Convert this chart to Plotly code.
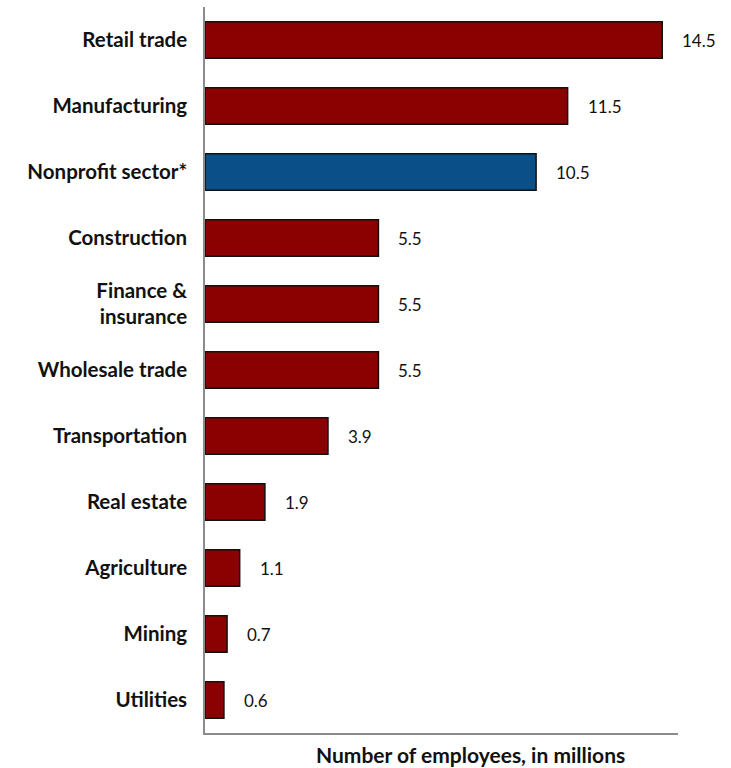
import plotly.graph_objects as go

categories = ["Retail trade", "Manufacturing", "Nonprofit sector*", "Construction",
              "Finance &<br>insurance", "Wholesale trade", "Transportation",
              "Real estate", "Agriculture", "Mining", "Utilities"]
values = [14.5, 11.5, 10.5, 5.5, 5.5, 5.5, 3.9, 1.9, 1.1, 0.7, 0.6]
value_labels = ["14.5", "11.5", "10.5", "5.5", "5.5", "5.5", "3.9", "1.9", "1.1", "0.7", "0.6"]
highlight = "Nonprofit sector*"

RED = "#8B0000"
BLUE = "#0B4F88"
colors = [BLUE if c == highlight else RED for c in categories]
FONT = "Lato, Open Sans, sans-serif"

fig = go.Figure()
fig.add_trace(go.Bar(
    x=values, y=categories, orientation="h",
    marker=dict(color=colors, line=dict(color="#111111", width=1.5)),
    width=0.55, hoverinfo="skip",
))

for c, v, t in zip(categories, values, value_labels):
    fig.add_annotation(x=v, y=c, text=t, showarrow=False, xanchor="left",
                       xshift=18, font=dict(family=FONT, size=17, color="#111111"))

fig.add_annotation(x=0.562, y=0, xref="paper", yref="paper", yanchor="middle",
                   yshift=-21,
                   text="<b>Number of employees, in millions</b>", showarrow=False,
                   font=dict(family=FONT, size=21, color="#111111"))

fig.update_layout(
    width=731, height=768,
    margin=dict(l=205, r=53, t=7, b=35),
    plot_bgcolor="white", paper_bgcolor="white",
    showlegend=False,
    xaxis=dict(range=[0, 15], showgrid=False, zeroline=False, showticklabels=False,
               showline=True, linecolor="#8c8c8c", linewidth=1.5, ticks=""),
    yaxis=dict(autorange=False, range=[10.5, -0.5], showgrid=False, zeroline=False,
               showline=True, linecolor="#8c8c8c", linewidth=1.5, ticks="",
               ticklabelstandoff=12,
               tickfont=dict(family=FONT, size=20.5, color="#111111", weight="bold")),
)

fig.write_html("out.html", config={"displayModeBar": False},
               post_script="document.body.style.margin='0';document.body.style.padding='0';")
